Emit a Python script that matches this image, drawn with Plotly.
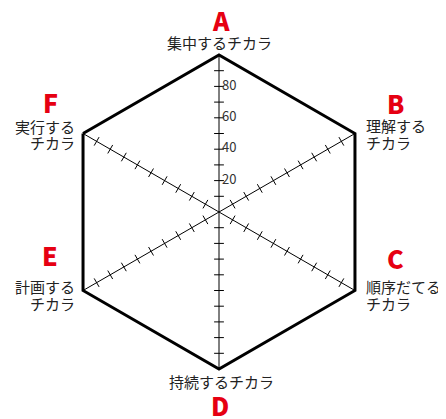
import plotly.graph_objects as go

# axes of the chart (clockwise from the top)
letters = ['A', 'B', 'C', 'D', 'E', 'F']
labels = [['集中するチカラ'], ['理解する', 'チカラ'], ['順序だてる', 'チカラ'],
          ['持続するチカラ'], ['計画する', 'チカラ'], ['実行する', 'チカラ']]
spoke_angles = [0, 60, 120, 180, 240, 300]   # direction of each spoke, deg clockwise from up
radial_labels = [20, 40, 60, 80]
minor_ticks = [10, 20, 30, 40, 50, 60, 70, 80, 90]

W, H = 446, 419
OFF = 8   # page body margin the browser adds around the figure
cx, cy, R = 219 - OFF, 212 - OFF, 157

fig = go.Figure()

# little cross ticks on every spoke
t_r, t_theta, t_ang = [], [], []
for cat, ang in zip(letters, spoke_angles):
    for v in minor_ticks:
        t_r.append(v)
        t_theta.append(cat)
        t_ang.append(ang)

fig.add_trace(go.Scatterpolar(
    r=t_r, theta=t_theta, mode='markers',
    marker=dict(symbol='line-ew', size=7, angle=t_ang,
                line=dict(color='black', width=1)),
    hoverinfo='skip', showlegend=False,
))

# scale numbers on the A spoke, to the right of it
fig.add_trace(go.Scatterpolar(
    r=radial_labels, theta=['A'] * len(radial_labels), mode='text',
    text=['\u00a0' + str(v) for v in radial_labels], textposition='middle right',
    textfont=dict(family='Noto Sans CJK JP', size=13, color='#333'),
    hoverinfo='skip', showlegend=False,
))

fig.update_layout(
    width=W, height=H,
    margin=dict(l=0, r=0, t=0, b=0),
    paper_bgcolor='white',
    showlegend=False,
    polar=dict(
        domain=dict(x=[(cx - R) / W, (cx + R) / W],
                    y=[1 - (cy + R) / H, 1 - (cy - R) / H]),
        gridshape='linear',
        bgcolor='white',
        radialaxis=dict(
            range=[0, 100], angle=90, showticklabels=False,
            ticks='', showline=False, showgrid=False,
        ),
        angularaxis=dict(
            type='category', categoryarray=letters,
            rotation=90, direction='clockwise',
            showticklabels=False, ticks='',
            showline=True, linecolor='black', linewidth=3,
            showgrid=True, gridcolor='black', gridwidth=1,
        ),
    ),
)

# letter + label positions (reference pixels), and text alignment per axis
letter_pos = [(221, 20), (395, 103), (395, 258), (220, 405), (50, 255), (50, 102)]
label_pos = [(219, 42), (364, 125), (364, 286), (221, 381), (77, 286), (77, 126)]
label_anchor = ['center', 'left', 'left', 'center', 'right', 'right']
line_step = 17

for let, (lx, ly), lines, (tx, ty), anc in zip(letters, letter_pos, labels, label_pos, label_anchor):
    fig.add_annotation(
        x=(lx - OFF) / W, y=1 - (ly - OFF) / H, xref='paper', yref='paper',
        text=let, showarrow=False, xanchor='center', yanchor='middle',
        font=dict(family='Noto Sans CJK JP', size=25, color='#e60012', weight=900),
    )
    for i, line in enumerate(lines):
        fig.add_annotation(
            x=(tx - OFF) / W, y=1 - (ty - OFF + i * line_step) / H,
            xref='paper', yref='paper',
            text=line, showarrow=False, xanchor=anc, yanchor='middle',
            font=dict(family='Noto Sans CJK JP', size=15, color='#222'),
        )

fig.write_html("out.html")
